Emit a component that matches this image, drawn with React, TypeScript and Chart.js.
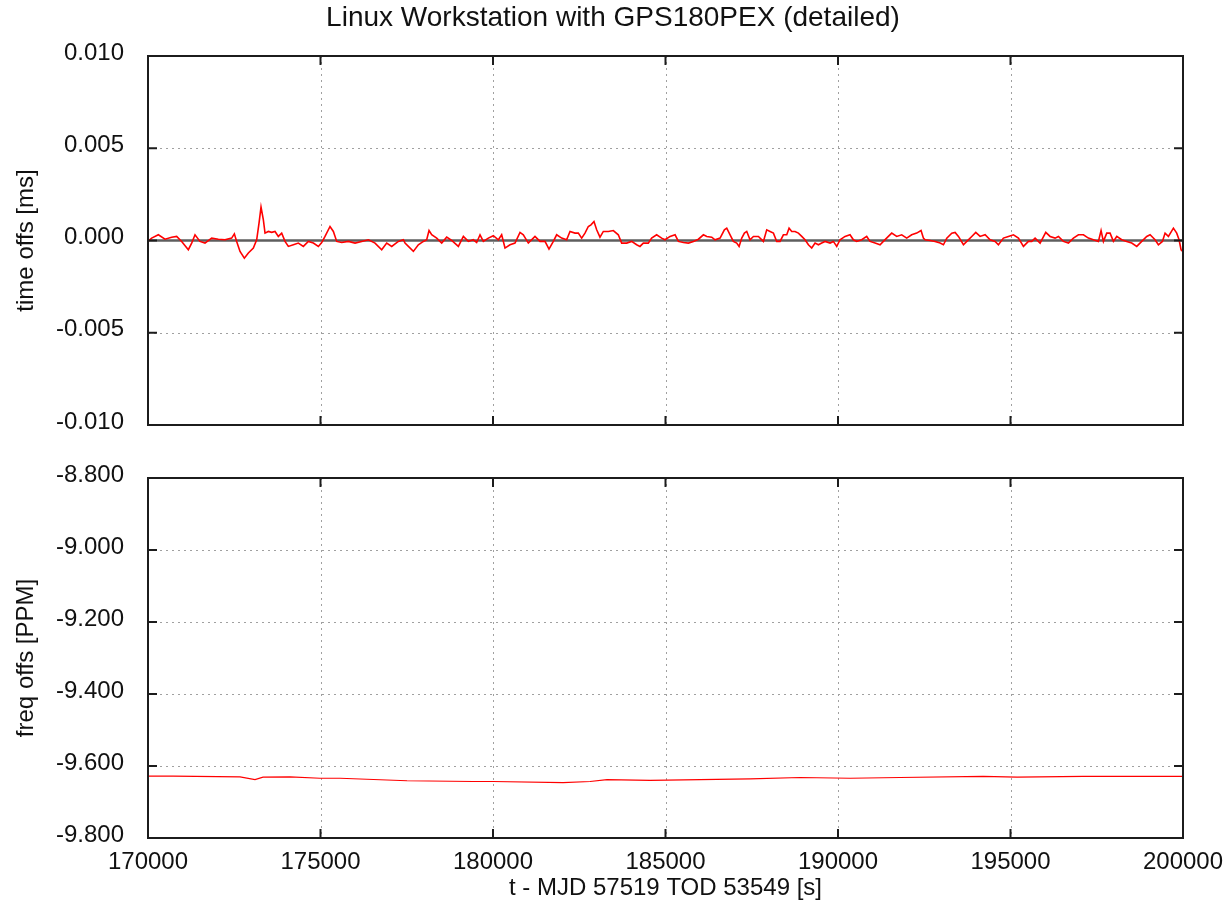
import React, { useEffect, useRef } from 'react';
import { Chart, registerables } from 'chart.js';

Chart.register(...registerables);

const FONT = "'Liberation Sans', Arial, sans-serif";
const FS = 24;
const TITLE_FS = 28;
const TEXT = '#111111';

const chartTitle = 'Linux Workstation with GPS180PEX (detailed)';
const xTitle = 't - MJD 57519 TOD 53549 [s]';
const yTitleTop = 'time offs [ms]';
const yTitleBottom = 'freq offs [PPM]';

const xTicks = [170000, 175000, 180000, 185000, 190000, 195000, 200000];
const yTicksTop = [-0.01, -0.005, 0, 0.005, 0.01];
const yTicksBottom = [-9.8, -9.6, -9.4, -9.2, -9.0, -8.8];

const timeT = [
  170000, 170106, 170300, 170493, 170686, 170831, 170976, 171169, 171266, 171363,
  171507, 171652, 171846, 172039, 172232, 172425, 172503, 172570, 172667, 172793,
  172909, 173054, 173150, 173218, 173276, 173344, 173392, 173488, 173585, 173682,
  173778, 173875, 173972, 174068, 174213, 174358, 174503, 174648, 174793, 174938,
  175035, 175131, 175276, 175373, 175470, 175615, 175808, 176001, 176194, 176388,
  176581, 176774, 176919, 177064, 177257, 177402,
  177450, 177547, 177692, 177836, 177981, 178078, 178146, 178223, 178368, 178513,
  178658, 178802, 178996, 179141, 179285, 179430, 179527, 179624, 179720, 179865,
  180010, 180155, 180251, 180348, 180493, 180638, 180783, 180879, 181024, 181217,
  181362, 181507, 181623, 181749, 181845, 181990, 182135, 182232, 182377, 182473,
  182570, 182666, 182763, 182840, 182927, 183005, 183101, 183198, 183343, 183488,
  183632, 183729, 183874, 184019, 184164, 184260, 184357, 184502, 184598, 184743,
  184888, 184985,
  185133, 185278, 185374, 185519, 185664, 185809, 185954, 186099, 186196, 186340,
  186437, 186582, 186707, 186775, 186872, 186968, 187065, 187133, 187210, 187287,
  187355, 187451, 187548, 187693, 187838, 187934, 188031, 188128, 188224, 188321,
  188417, 188514, 188582, 188659, 188755, 188852, 188949, 189045, 189142, 189238,
  189335, 189432, 189528, 189625, 189770, 189866, 189963, 190060, 190204, 190349,
  190446, 190543, 190687, 190832, 190929, 191074, 191219, 191315, 191460, 191557,
  191702, 191847, 191992, 192136, 192281, 192407, 192475,
  192525, 192670, 192815, 192960, 193056, 193153, 193298, 193394, 193491, 193636,
  193733, 193877, 193993, 194119, 194264, 194409, 194554, 194650, 194795, 194940,
  195085, 195230, 195375, 195520, 195616, 195713, 195858, 196022, 196148, 196292,
  196389, 196534, 196679, 196824, 196969, 197114, 197258, 197403, 197548, 197625,
  197693, 197790, 197886, 197983, 198080, 198224, 198369, 198514, 198659, 198804,
  198949, 199046, 199190, 199287, 199403, 199480, 199577, 199722, 199818, 199886,
  199944, 200000,
];

const timeOffs = [
  -0.00005, 0.00013, 0.00031, 0.00007, 0.00018, 0.00022, -0.00005, -0.0005, -0.00014, 0.00031,
  -0.00005, -0.00014, 0.00013, 0.00007, 0.00004, 0.00013, 0.00036, -0.00005, -0.00059, -0.00096,
  -0.00068, -0.00041, 0.00004, 0.00094, 0.00181, 0.00112, 0.0004, 0.00049, 0.00044, 0.00049,
  0.00022, 0.0004, -0.00005, -0.00032, -0.00023, -0.00014, -0.00032, -0.00005, -0.00014, -0.00032,
  -0.00011, 0.00022, 0.00076, 0.00049, -0.00005, -0.00011, -0.00005, -0.00014, -0.00005, 0.00004,
  -0.00014, -0.0005, -0.00014, -0.00032, -0.00005, 0.00004,
  -0.00014, -0.00032, -0.00059, -0.00023, -0.00005, 0.00004, 0.00054, 0.00031, 0.00013, -0.00014,
  0.00018, 0.0, -0.00032, 0.00022, -0.00005, 0.00004, -0.00011, 0.00031, -0.00005, 0.00013,
  0.00026, 0.00004, 0.00031, -0.00041, -0.00023, -0.00014, 0.00044, 0.00031, -0.00014, 0.00022,
  -0.00005, -0.00005, -0.00047, -0.00005, 0.00031, 0.00013, 0.00004, 0.00049, 0.0004, 0.0004,
  0.00013, 0.0004, 0.00076, 0.00085, 0.00103, 0.00058, 0.00018, 0.00049, 0.00049, 0.00054,
  0.00031, -0.00014, -0.00014, -0.00005, -0.00023, -0.00032, -0.00014, -0.00014, 0.00013, 0.00031,
  0.00013, 0.00004,
  0.00022, 0.00031, -0.00005, -0.00011, -0.00014, -0.00005, 0.00007, 0.00031, 0.00022, 0.00018,
  0.00004, 0.00013, 0.00058, 0.00067, 0.00031, -0.00005, -0.00014, -0.00032, 0.00013, 0.0004,
  0.00049, 0.00004, 0.00022, 0.00022, -0.00005, 0.00058, 0.00049, 0.0004, -0.00005, -0.00005,
  0.00031, 0.00031, 0.00067, 0.00049, 0.00049, 0.0004, 0.00022, 0.00004, -0.00023, -0.00041,
  -0.00014, -0.00023, -0.00014, -0.00005, -0.00014, -0.00005, -0.00032, 0.00004, 0.00022, 0.00031,
  0.00004, -0.00005, 0.00004, 0.00022, -0.00005, -0.00014, -0.00023, -0.00005, 0.00022, 0.0004,
  0.00022, 0.00031, 0.00013, 0.00031, 0.0004, 0.00054, 0.00013,
  0.00004, 0.0, -0.00005, -0.00014, -0.00023, 0.00013, 0.0004, 0.00044, 0.00022, -0.00023,
  -0.00005, 0.00022, 0.00044, 0.00022, 0.00031, 0.00004, -0.00005, -0.00023, 0.00013, 0.00022,
  0.00031, 0.00013, -0.00032, -0.00005, -0.00005, 0.00013, -0.00014, 0.00044, 0.00022, 0.00013,
  0.00022, -0.00005, -0.00014, 0.00013, 0.00031, 0.00031, 0.00013, 0.00004, -0.00005, 0.00054,
  -0.00005, 0.0004, 0.0004, -0.00005, 0.00022, 0.00004, -0.00005, -0.00014, -0.00032, -0.00005,
  0.00022, 0.00031, 0.00004, -0.00023, -0.00005, 0.0004, 0.00022, 0.00067, 0.0004, 0.00004,
  -0.0005, -0.0006,
];

const freqT = [
  170000, 170725, 172667, 173102, 173334, 174116, 174986, 175566, 177508, 179422,
  180000, 182031, 182813, 183306, 184553, 186003, 187452, 188901, 190350, 191800,
  194206, 195192, 197106, 199338, 200000,
];
const freqOffs = [
  -9.628, -9.628, -9.63, -9.638, -9.631, -9.63, -9.634, -9.634, -9.641, -9.643,
  -9.643, -9.646, -9.643, -9.638, -9.64, -9.638, -9.636, -9.632, -9.634, -9.632,
  -9.629, -9.631, -9.629, -9.629, -9.629,
];

type FrameCfg = { yTicks: number[]; yTitle: string; title?: string; zero?: boolean; xTitleY?: number };

function framePlugin(cfg: FrameCfg) {
  return {
    id: 'gnuframe',
    beforeDatasetsDraw(chart: any) {
      const { ctx, chartArea: a, scales } = chart;
      const x = scales.x;
      const y = scales.y;
      ctx.save();
      ctx.strokeStyle = '#a0a0a0';
      ctx.lineWidth = 1;
      ctx.setLineDash([2, 4]);
      for (const v of xTicks) {
        const px = Math.round(x.getPixelForValue(v)) + 0.5;
        if (px <= a.left + 3 || px >= a.right - 3) continue;
        ctx.beginPath();
        ctx.moveTo(px, a.top);
        ctx.lineTo(px, a.bottom);
        ctx.stroke();
      }
      for (const v of cfg.yTicks) {
        if (cfg.zero && v === 0) continue;
        const py = Math.round(y.getPixelForValue(v)) + 0.5;
        if (py <= a.top + 3 || py >= a.bottom - 3) continue;
        ctx.beginPath();
        ctx.moveTo(a.left, py);
        ctx.lineTo(a.right, py);
        ctx.stroke();
      }
      ctx.setLineDash([]);
      if (cfg.zero) {
        const py = y.getPixelForValue(0);
        ctx.strokeStyle = '#5e5e5e';
        ctx.lineWidth = 2.5;
        ctx.beginPath();
        ctx.moveTo(a.left, py);
        ctx.lineTo(a.right, py);
        ctx.stroke();
      }
      ctx.restore();
    },
    afterDatasetsDraw(chart: any) {
      const { ctx, chartArea: a, scales } = chart;
      const x = scales.x;
      const y = scales.y;
      ctx.save();
      ctx.strokeStyle = '#1c1c1c';
      ctx.lineWidth = 2;
      ctx.strokeRect(a.left, a.top, a.right - a.left, a.bottom - a.top);
      const TL = 9;
      ctx.beginPath();
      for (const v of xTicks) {
        const px = x.getPixelForValue(v);
        ctx.moveTo(px, a.bottom);
        ctx.lineTo(px, a.bottom - TL);
        ctx.moveTo(px, a.top);
        ctx.lineTo(px, a.top + TL);
      }
      for (const v of cfg.yTicks) {
        const py = y.getPixelForValue(v);
        ctx.moveTo(a.left, py);
        ctx.lineTo(a.left + TL, py);
        ctx.moveTo(a.right, py);
        ctx.lineTo(a.right - TL, py);
      }
      ctx.stroke();

      ctx.fillStyle = TEXT;
      ctx.textAlign = 'center';
      ctx.textBaseline = 'middle';
      if (cfg.title) {
        ctx.font = `${TITLE_FS}px ${FONT}`;
        ctx.fillText(cfg.title, chart.width / 2, 18);
      }
      ctx.font = `${FS}px ${FONT}`;
      if (cfg.xTitleY !== undefined) {
        ctx.fillText(xTitle, (a.left + a.right) / 2, cfg.xTitleY);
      }
      ctx.save();
      ctx.translate(26, (a.top + a.bottom) / 2);
      ctx.rotate(-Math.PI / 2);
      ctx.fillText(cfg.yTitle, 0, 0);
      ctx.restore();
      ctx.restore();
    },
  };
}

function zeroPad(s: any) {
  s.paddingTop = 0;
  s.paddingBottom = 0;
  s.paddingLeft = 0;
  s.paddingRight = 0;
}

function makeChart(
  canvas: HTMLCanvasElement,
  ts: number[],
  vs: number[],
  yMin: number,
  yMax: number,
  yTicks: number[],
  padding: any,
  showX: boolean,
  xAxisHeight: number,
  lineWidth: number,
  cfg: FrameCfg
) {
  return new Chart(canvas, {
    type: 'line',
    data: {
      datasets: [
        {
          data: ts.map((t, i) => ({ x: t, y: vs[i] })),
          borderColor: '#ff0000',
          borderWidth: lineWidth,
          pointRadius: 0,
          tension: 0,
          fill: false,
        },
      ],
    },
    options: {
      animation: false,
      responsive: false,
      maintainAspectRatio: false,
      devicePixelRatio: 1,
      layout: { padding },
      plugins: { legend: { display: false }, tooltip: { enabled: false }, title: { display: false } },
      scales: {
        x: {
          type: 'linear',
          min: 170000,
          max: 200000,
          grid: { display: false, drawTicks: false },
          border: { display: false },
          afterBuildTicks: (s: any) => {
            s.ticks = xTicks.map((v) => ({ value: v }));
          },
          afterFit: (s: any) => {
            s.height = xAxisHeight;
            zeroPad(s);
          },
          ticks: {
            display: showX,
            autoSkip: false,
            maxRotation: 0,
            padding: 10,
            color: TEXT,
            font: { family: FONT, size: FS },
            callback: (v: any) => String(v),
          },
        },
        y: {
          type: 'linear',
          min: yMin,
          max: yMax,
          grid: { display: false, drawTicks: false },
          border: { display: false },
          afterBuildTicks: (s: any) => {
            s.ticks = yTicks.map((v) => ({ value: v }));
          },
          afterFit: (s: any) => {
            s.width = 148;
            zeroPad(s);
          },
          ticks: {
            autoSkip: false,
            padding: 24,
            labelOffset: -3,
            color: TEXT,
            font: { family: FONT, size: FS },
            callback: (v: any) => Number(v).toFixed(3),
          },
        },
      },
    },
    plugins: [framePlugin(cfg)],
  } as any);
}

export default function App() {
  const topRef = useRef<HTMLCanvasElement>(null);
  const botRef = useRef<HTMLCanvasElement>(null);

  useEffect(() => {
    const top = makeChart(
      topRef.current!,
      timeT,
      timeOffs,
      -0.01,
      0.01,
      yTicksTop,
      { top: 56, right: 43, bottom: 25, left: 0 },
      false,
      0,
      1.6,
      { yTicks: yTicksTop, yTitle: yTitleTop, title: chartTitle, zero: true }
    );
    const bot = makeChart(
      botRef.current!,
      freqT,
      freqOffs,
      -9.8,
      -8.8,
      yTicksBottom,
      { top: 28, right: 43, bottom: 0, left: 0 },
      true,
      77,
      1.2,
      { yTicks: yTicksBottom, yTitle: yTitleBottom, xTitleY: 438 }
    );
    return () => {
      top.destroy();
      bot.destroy();
    };
  }, []);

  return (
    <div style={{ position: 'fixed', left: 0, top: 0, width: 1226, height: 915, background: '#ffffff' }}>
      <canvas ref={topRef} width={1226} height={450} style={{ position: 'absolute', left: 0, top: 0, width: 1226, height: 450 }} />
      <canvas ref={botRef} width={1226} height={465} style={{ position: 'absolute', left: 0, top: 450, width: 1226, height: 465 }} />
    </div>
  );
}
